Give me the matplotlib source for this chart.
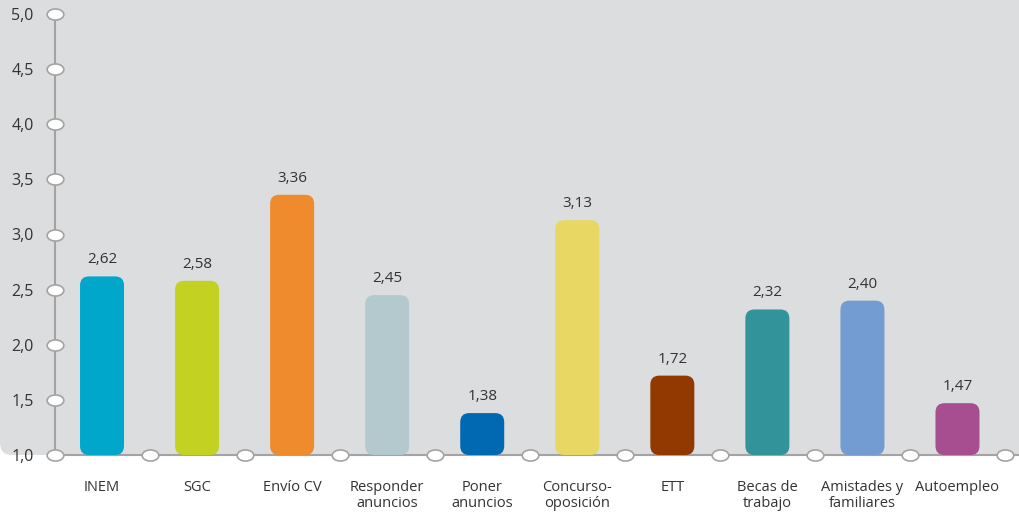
import numpy as np
import matplotlib.pyplot as plt
from matplotlib.patches import FancyBboxPatch
from matplotlib.path import Path
from matplotlib.markers import MarkerStyle
from matplotlib.transforms import Affine2D

categories = ["INEM", "SGC", "Envío CV", "Responder\nanuncios", "Poner\nanuncios",
              "Concurso-\noposición", "ETT", "Becas de\ntrabajo", "Amistades y\nfamiliares",
              "Autoempleo"]
values = [2.62, 2.58, 3.36, 2.45, 1.38, 3.13, 1.72, 2.32, 2.40, 1.47]
colors = ["#00a7cb", "#c3d123", "#ef8a2d", "#b4c9cd", "#0069b1",
          "#e8d763", "#923801", "#33939a", "#739dd2", "#a64e90"]
yticks = [1.0, 1.5, 2.0, 2.5, 3.0, 3.5, 4.0, 4.5, 5.0]

plt.rcParams['font.family'] = ['Open Sans', 'DejaVu Sans']

W, H = 1019, 513
fig = plt.figure(figsize=(W / 100, H / 100), dpi=100)
fig.patch.set_facecolor("white")

# gray panel behind the plot
bg = FancyBboxPatch((0, 58 / H), 1.2, 1, boxstyle="round,pad=0,rounding_size=0.012",
                    transform=fig.transFigure, facecolor="#dcdddf", edgecolor="none",
                    mutation_aspect=W / H, zorder=-5)
fig.patches.append(bg)

left, right = 54.5, 1005
ax = fig.add_axes([left / W, 58 / H, (right - left) / W, (455 - 14) / H])
ax.set_zorder(1)
ax.set_xlim(-0.5, 9.5)
ax.set_ylim(1.0, 5.0)
ax.patch.set_visible(False)
for s in ax.spines.values():
    s.set_visible(False)

px_x = (right - left) / 10
px_y = (455 - 14) / 4.0
gray = "#a3a3a3"

# axis lines
ax.plot([-0.5, -0.5], [1.0, 5.0], color=gray, lw=1.5, clip_on=False, zorder=1)
ax.plot([-0.5, 9.5 + 14 / px_x], [1.0, 1.0], color=gray, lw=1.5, clip_on=False, zorder=1)

# bars with rounded corners
bw = 44 / px_x
for i, (v, c) in enumerate(zip(values, colors)):
    p = FancyBboxPatch((i - bw / 2, 1.0), bw, v - 1.0,
                       boxstyle="round,pad=0,rounding_size=%f" % (9 / px_x),
                       mutation_aspect=px_x / px_y, facecolor=c, edgecolor="none",
                       zorder=2)
    ax.add_patch(p)
    ax.text(i, v + 9 / px_y, ("%.2f" % v).replace(".", ","), ha="center", va="bottom",
            fontsize=11, color="#333333")

# oval markers
oval = Path.unit_circle().transformed(Affine2D().scale(1.5, 1.0))
ms = MarkerStyle(oval)
ax.plot([-0.5] * len(yticks), yticks, ls="none", marker=ms, markersize=12,
        markerfacecolor="white", markeredgecolor=gray, markeredgewidth=1.2,
        clip_on=False, zorder=3)
ax.plot(np.arange(0.5, 10, 1.0), [1.0] * 10, ls="none", marker=ms, markersize=12,
        markerfacecolor="white", markeredgecolor=gray, markeredgewidth=1.2,
        clip_on=False, zorder=3)

ax.set_yticks(yticks)
ax.set_yticklabels([("%.1f" % t).replace(".", ",") for t in yticks], fontsize=11.5,
                   color="#333333")
ax.tick_params(axis="y", length=0, pad=15)
ax.set_xticks(range(len(categories)))
ax.set_xticklabels(categories, fontsize=10.5, color="#333333", linespacing=1.1, va="top")
ax.tick_params(axis="x", length=0, pad=18)

fig.savefig("out.png", dpi=100)
